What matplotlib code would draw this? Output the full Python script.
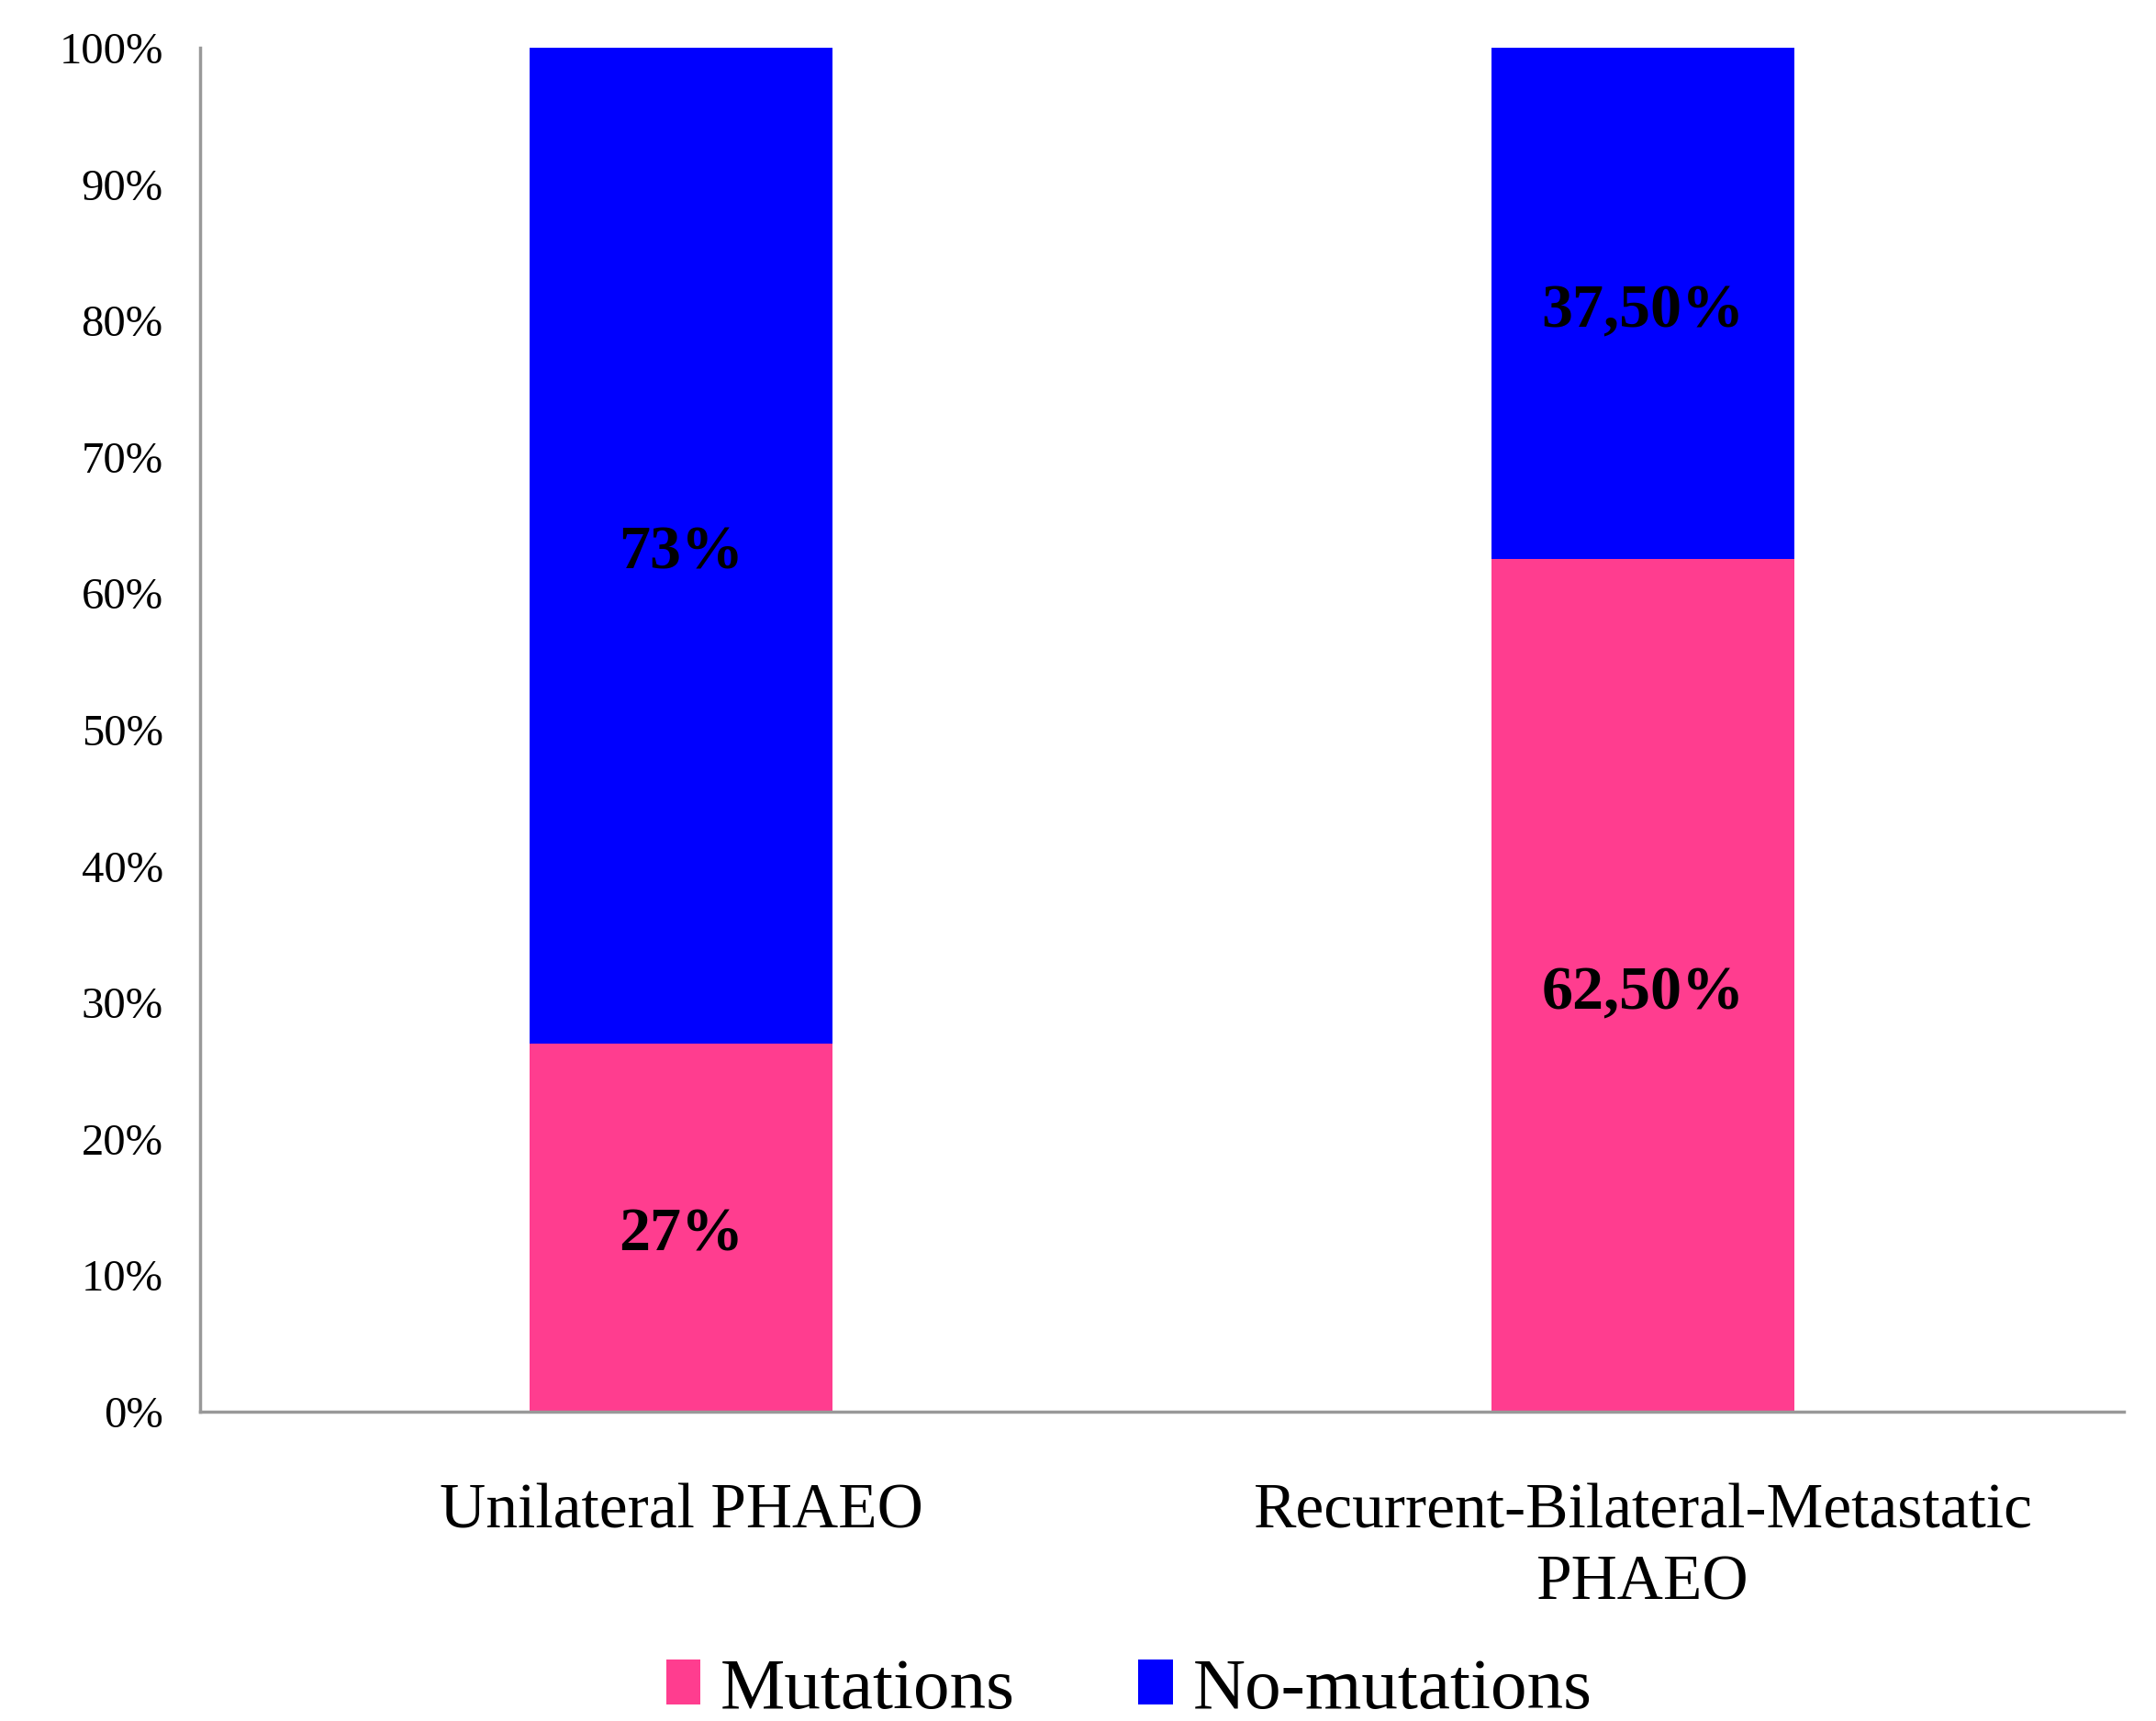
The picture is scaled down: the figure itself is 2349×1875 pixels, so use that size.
import matplotlib
matplotlib.use("Agg")
import matplotlib.pyplot as plt
from matplotlib.ticker import FuncFormatter

categories = ["Unilateral PHAEO", "Recurrent-Bilateral-Metastatic\nPHAEO"]
mutations = [27, 62.5]
no_mutations = [73, 37.5]
mut_labels = ["27%", "62,50%"]
nomut_labels = ["73%", "37,50%"]
series_names = ["Mutations", "No-mutations"]
yticks = list(range(0, 101, 10))

pink = "#FF3D8F"
blue = "#0000FF"

plt.rcParams["font.family"] = ["Liberation Serif", "DejaVu Serif"]

fig = plt.figure(figsize=(23.49, 18.75), dpi=100)
ax = fig.add_axes([0.0928, 0.1797, 0.8923, 0.7926])

x = list(range(len(categories)))
w = 0.314
b1 = ax.bar(x, mutations, width=w, color=pink, label=series_names[0])
b2 = ax.bar(x, no_mutations, width=w, bottom=mutations, color=blue, label=series_names[1])

for i in x:
    ax.annotate(mut_labels[i], (i, mutations[i] / 2), xytext=(0, -6.5),
                textcoords="offset points", ha="center", va="center",
                fontsize=49, fontweight="bold", color="black")
    ax.annotate(nomut_labels[i], (i, mutations[i] + no_mutations[i] / 2), xytext=(0, -6.5),
                textcoords="offset points", ha="center", va="center",
                fontsize=49, fontweight="bold", color="black")

ax.set_xlim(-0.5, 1.5)
ax.set_ylim(0, 100)
ax.set_yticks(yticks)
ax.yaxis.set_major_formatter(FuncFormatter(lambda v, p: f"{int(v)}%"))
ax.tick_params(axis="y", length=0, pad=29, labelsize=35)
ax.set_xticks(x)
ax.set_xticklabels(categories, fontsize=50, linespacing=1.3)
ax.tick_params(axis="x", length=0, pad=56)

for s in ["top", "right"]:
    ax.spines[s].set_visible(False)
for s in ["left", "bottom"]:
    ax.spines[s].set_color("#999999")
    ax.spines[s].set_linewidth(2.5)

fig.legend(handles=[b1, b2], labels=series_names, loc="center",
           bbox_to_anchor=(0.5237, 33 / 1875), ncol=2, frameon=False,
           fontsize=57, handlelength=0.47, handleheight=0.57,
           handletextpad=0.28, columnspacing=1.7, borderpad=0)

fig.savefig("out.png", dpi=100)
